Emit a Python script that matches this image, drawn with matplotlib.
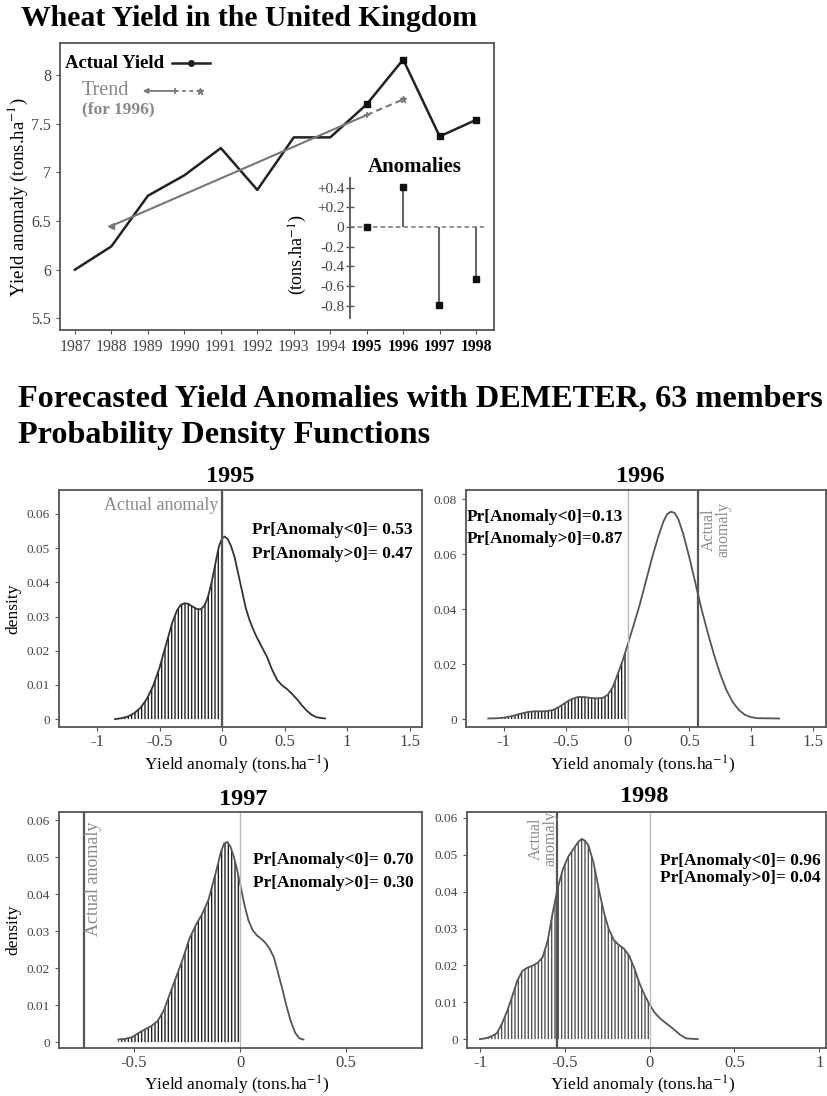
import matplotlib
matplotlib.use("Agg")
import matplotlib.pyplot as plt
import numpy as np

plt.rcParams['font.family'] = ['Liberation Serif', 'DejaVu Serif']
plt.rcParams['mathtext.fontset'] = 'stix'
plt.rcParams['hatch.linewidth'] = 1.0

## top chart data
years = [1987, 1988, 1989, 1990, 1991, 1992, 1993, 1994, 1995, 1996, 1997, 1998]
actual_yield = [6.00, 6.24, 6.76, 6.97, 7.25, 6.82, 7.36, 7.36, 7.70, 8.16, 7.37, 7.54]
trend_years = [1988, 1995]
trend_vals = [6.45, 7.59]
trend_fc_years = [1995, 1996]
trend_fc_vals = [7.59, 7.75]
anom_years = [1995, 1996, 1997, 1998]
anomalies = [0.0, 0.41, -0.79, -0.53]
anom_ticks = [0.4, 0.2, 0, -0.2, -0.4, -0.6, -0.8]
anom_ticklabels = ['+0.4', '+0.2', '0', '-0.2', '-0.4', '-0.6', '-0.8']

## forecast pdfs
x_1995 = [-0.856, -0.80, -0.75, -0.70, -0.65, -0.60, -0.55, -0.50, -0.45, -0.40, -0.36, -0.33, -0.30,
          -0.27, -0.24, -0.20, -0.17, -0.14, -0.11, -0.08, -0.05, -0.025, 0.0, 0.02, 0.045, 0.07, 0.10,
          0.13, 0.16, 0.19, 0.22, 0.25, 0.28, 0.32, 0.36, 0.40, 0.44, 0.48, 0.52, 0.56, 0.60, 0.64,
          0.68, 0.72, 0.76, 0.824]
d_1995 = [0.0, 0.0003, 0.0008, 0.0018, 0.0034, 0.006, 0.0098, 0.015, 0.0215, 0.028, 0.0318, 0.0334,
          0.0339, 0.0337, 0.033, 0.0322, 0.0321, 0.0332, 0.036, 0.0405, 0.046, 0.0505, 0.0528, 0.0534,
          0.0527, 0.0508, 0.0475, 0.0425, 0.0375, 0.0325, 0.029, 0.0262, 0.0238, 0.021, 0.0182, 0.0145,
          0.0115, 0.0099, 0.0088, 0.0074, 0.0058, 0.004, 0.0024, 0.0012, 0.0005, 0.0002]
x_1996 = [-1.126, -1.05, -1.0, -0.95, -0.90, -0.85, -0.80, -0.75, -0.70, -0.65, -0.60, -0.55, -0.50,
          -0.45, -0.40, -0.35, -0.30, -0.25, -0.20, -0.16, -0.12, -0.08, -0.04, 0.0, 0.05, 0.10, 0.15,
          0.20, 0.25, 0.29, 0.32, 0.35, 0.38, 0.41, 0.45, 0.50, 0.55, 0.60, 0.65, 0.70, 0.75, 0.80,
          0.85, 0.90, 0.95, 1.0, 1.05, 1.226]
d_1996 = [0.0002, 0.0003, 0.0005, 0.0009, 0.0015, 0.0021, 0.0026, 0.0028, 0.0028, 0.0029, 0.0033,
          0.0045, 0.006, 0.0073, 0.008, 0.008, 0.0077, 0.0075, 0.0077, 0.0088, 0.0115, 0.0162, 0.0212,
          0.0269, 0.0342, 0.0418, 0.0503, 0.0589, 0.0665, 0.0718, 0.0745, 0.0754, 0.075, 0.0728, 0.0674,
          0.0588, 0.0492, 0.0397, 0.0312, 0.0233, 0.0163, 0.0105, 0.0062, 0.0033, 0.0015, 0.0007,
          0.0003, 0.0002]
x_1997 = [-0.574, -0.54, -0.51, -0.48, -0.45, -0.42, -0.39, -0.36, -0.33, -0.30, -0.27, -0.24, -0.21,
          -0.18, -0.15, -0.13, -0.11, -0.09, -0.075, -0.06, -0.045, -0.03, -0.015, 0.0, 0.02, 0.04,
          0.06, 0.08, 0.10, 0.12, 0.14, 0.16, 0.18, 0.20, 0.22, 0.24, 0.26, 0.28, 0.299]
d_1997 = [0.0007, 0.0009, 0.0013, 0.0024, 0.0034, 0.0043, 0.0056, 0.0085, 0.0132, 0.0178, 0.0225,
          0.0278, 0.0315, 0.0345, 0.0383, 0.0425, 0.0468, 0.0515, 0.0537, 0.0541, 0.0528, 0.0502, 0.0468,
          0.0429, 0.0372, 0.0328, 0.0302, 0.0288, 0.0279, 0.0268, 0.0252, 0.0228, 0.0185, 0.0142, 0.0095,
          0.0055, 0.0025, 0.001, 0.0007]
x_1998 = [-1.0, -0.96, -0.93, -0.90, -0.87, -0.84, -0.81, -0.78, -0.75, -0.72, -0.69, -0.66, -0.63,
          -0.60, -0.57, -0.54, -0.51, -0.48, -0.45, -0.42, -0.40, -0.38, -0.36, -0.33, -0.30, -0.27,
          -0.24, -0.21, -0.18, -0.15, -0.12, -0.09, -0.06, -0.03, 0.0, 0.03, 0.06, 0.10, 0.14, 0.18,
          0.216, 0.284]
d_1998 = [0.0, 0.0003, 0.0008, 0.0016, 0.0042, 0.0075, 0.0115, 0.0158, 0.0185, 0.0194, 0.0199, 0.0207,
          0.0222, 0.0268, 0.0345, 0.0412, 0.0462, 0.0494, 0.0515, 0.0535, 0.0543, 0.0538, 0.0525, 0.0478,
          0.0408, 0.0345, 0.0298, 0.0268, 0.0255, 0.0245, 0.0226, 0.0193, 0.0152, 0.012, 0.0094, 0.0072,
          0.0057, 0.0042, 0.0028, 0.0012, 0.0002, 0.0]
actual_anom = {1995: 0.0, 1996: 0.567, 1997: -0.736, 1998: -0.545}
pr_below = {1995: '0.53', 1996: '0.13', 1997: '0.70', 1998: '0.96'}
pr_above = {1995: '0.47', 1996: '0.87', 1997: '0.30', 1998: '0.04'}

GREY = '#555555'
LGREY = '#8a8a8a'

fig = plt.figure(figsize=(8.27, 10.96), dpi=100)
W, H = 827.0, 1096.0

def add_ax(left, top, right, bottom):
    # pixel box -> figure fraction
    return fig.add_axes([left / W, 1 - bottom / H, (right - left) / W, (bottom - top) / H])

def style_frame(ax):
    for s in ax.spines.values():
        s.set_color(GREY)
        s.set_linewidth(1.3)
    ax.tick_params(direction='out', color=GREY, labelcolor='#444444', length=3, width=0.8)

## ---------------- top chart ----------------
fig.text(21 / W, 1 - 18 / H, 'Wheat Yield in the United Kingdom', fontsize=21.4,
         fontweight='bold', ha='left', va='center')

ax = add_ax(60, 43, 494, 330)
style_frame(ax)
ax.plot(years, actual_yield, color='#222222', lw=1.8)
ax.plot(anom_years, actual_yield[-4:], 's', color='#111111', ms=4)
ax.plot(trend_years, trend_vals, color='#777777', lw=1.5)
ax.plot(trend_years[:1], trend_vals[:1], marker='<', color='#777777', ms=5)
ax.plot(trend_years[1:], trend_vals[1:], marker='+', color='#777777', ms=5, mew=1.2)
ax.plot(trend_fc_years, trend_fc_vals, color='#777777', lw=1.5, ls=(0, (3, 2)))
ax.plot(trend_fc_years[1:], trend_fc_vals[1:], marker='*', color='#777777', ms=5)
ax.set_xlim(1986.59, 1998.49)
ax.set_ylim(5.38, 8.33)
ax.set_yticks([5.5, 6, 6.5, 7, 7.5, 8])
ax.set_yticklabels(['5.5', '6', '6.5', '7', '7.5', '8'], fontsize=11.5)
ax.set_xticks(years)
ax.set_xticklabels([str(y) for y in years], fontsize=11.3)
for lab, y in zip(ax.get_xticklabels(), years):
    if y >= 1995:
        lab.set_fontweight('bold')
        lab.set_color('black')
ax.set_ylabel('Yield anomaly (tons.ha$^{-1}$)', fontsize=13.5, va='center')
ax.yaxis.set_label_coords(-0.097, 0.463)

## legend drawn by hand
ax.text(0.012, 0.93, 'Actual Yield', transform=ax.transAxes, fontsize=13.5, fontweight='bold',
        ha='left', va='center')
ax.plot([0.258, 0.346], [0.93, 0.93], color='#222222', lw=1.8, transform=ax.transAxes)
ax.plot([0.302], [0.93], 'o', color='#222222', ms=4, transform=ax.transAxes)
ax.text(0.05, 0.836, 'Trend', transform=ax.transAxes, fontsize=14.5, color='#888888',
        ha='left', va='center')
ax.text(0.05, 0.77, '(for 1996)', transform=ax.transAxes, fontsize=12.5, color='#888888',
        fontweight='bold', ha='left', va='center')
ax.annotate('', xy=(0.184, 0.833), xytext=(0.265, 0.833), xycoords='axes fraction',
            arrowprops=dict(arrowstyle='-|>', color='#777777', lw=1.3, mutation_scale=7))
ax.plot([0.265], [0.833], '+', color='#777777', ms=5, mew=1.2, transform=ax.transAxes)
ax.plot([0.265, 0.323], [0.833, 0.833], color='#777777', lw=1.3, ls=(0, (2, 2)),
        transform=ax.transAxes)
ax.plot([0.323], [0.833], '*', color='#777777', ms=5, transform=ax.transAxes)

## anomalies inset
axi = add_ax(350, 178, 490, 318)
axi.patch.set_alpha(0)
for s in ['top', 'right', 'bottom']:
    axi.spines[s].set_visible(False)
axi.spines['left'].set_color(GREY)
axi.spines['left'].set_linewidth(1.3)
axi.set_xlim(1994.54, 1998.39)
axi.set_ylim(-0.926, 0.498)
axi.set_xticks([])
axi.set_yticks(anom_ticks)
axi.set_yticklabels(anom_ticklabels, fontsize=11, color='#444444')
axi.tick_params(axis='y', direction='inout', length=6, color=GREY, width=1, pad=1)
axi.axhline(0, color='#777777', lw=1.1, ls=(0, (3, 2)), xmax=0.96)
axi.vlines(anom_years, 0, anomalies, color='#666666', lw=1.5)
axi.plot(anom_years, anomalies, 's', color='#111111', ms=4.5)
axi.text(0.464, 1.079, 'Anomalies', transform=axi.transAxes, fontsize=15, fontweight='bold',
         ha='center', va='center')
axi.set_ylabel('(tons.ha$^{-1}$)', fontsize=13, va='center')
axi.yaxis.set_label_coords(-0.37, 0.45)

## ---------------- forecast section ----------------
fig.text(18 / W, 1 - 399 / H, 'Forecasted Yield Anomalies with DEMETER, 63 members', fontsize=23.2,
         fontweight='bold', ha='left', va='center')
fig.text(18 / W, 1 - 436 / H, 'Probability Density Functions', fontsize=23.2,
         fontweight='bold', ha='left', va='center')

panels = [
    (1995, x_1995, d_1995, (59, 490, 422, 727), (-1.304, 1.6), (-0.0023, 0.067),
     [-1, -0.5, 0, 0.5, 1, 1.5], [0, 0.01, 0.02, 0.03, 0.04, 0.05, 0.06], (0.471, 1.055)),
    (1996, x_1996, d_1996, (466, 490, 826, 727), (-1.306, 1.605), (-0.0029, 0.0833),
     [-1, -0.5, 0, 0.5, 1, 1.5], [0, 0.02, 0.04, 0.06, 0.08], (0.483, 1.055)),
    (1997, x_1997, d_1997, (59, 812, 422, 1048), (-0.854, 0.858), (-0.0016, 0.0622),
     [-0.5, 0, 0.5], [0, 0.01, 0.02, 0.03, 0.04, 0.05, 0.06], (0.507, 1.051)),
    (1998, x_1998, d_1998, (467, 812, 826, 1048), (-1.076, 1.04), (-0.0024, 0.0616),
     [-1, -0.5, 0, 0.5, 1], [0, 0.01, 0.02, 0.03, 0.04, 0.05, 0.06], (0.494, 1.064)),
]

def fmt(v):
    return '%g' % v

for yr, xs, ds, box, xl, yl, xt, yt, tpos in panels:
    xs = np.array(xs)
    ds = np.array(ds)
    pa = add_ax(*box)
    style_frame(pa)
    neg = xs <= 0
    pa.fill_between(xs[neg], 0, ds[neg], facecolor='none',
                    edgecolor='#222222' if yr != 1998 else '#555555', linewidth=0, hatch='|||||')
    pa.plot(xs, ds, color='#555555' if yr != 1995 else '#333333', lw=1.3)
    pa.axvline(0, color='#bbbbbb', lw=1.0)
    pa.axvline(actual_anom[yr], color='#555555', lw=1.6)
    pa.set_xlim(*xl)
    pa.set_ylim(*yl)
    pa.set_xticks(xt)
    pa.set_xticklabels([fmt(v) for v in xt], fontsize=12, color='#444444')
    pa.set_yticks(yt)
    pa.set_yticklabels([fmt(v) for v in yt], fontsize=9.5, color='#444444')
    pa.tick_params(axis='x', pad=2)
    pa.text(tpos[0], tpos[1], str(yr), transform=pa.transAxes, fontsize=17.5, fontweight='bold',
            ha='center', va='center')
    pa.set_xlabel('Yield anomaly (tons.ha$^{-1}$)', fontsize=12.5, va='center')
    pa.xaxis.set_label_coords(0.49, -0.16)
    if yr in (1995, 1997):
        pa.set_ylabel('density', fontsize=12.5, va='center')
        pa.yaxis.set_label_coords(-0.127, 0.5)

    if yr == 1995:
        pa.text(-0.03, 0.0626, 'Actual anomaly', color=LGREY, fontsize=13, ha='right', va='center')
        px, py1, py2 = 0.237, 0.0553, 0.0484
        sep = '= '
    elif yr == 1996:
        pa.text(0.72, 0.079, 'Actual\nanomaly', color=LGREY, fontsize=11.5, ha='center', va='top',
                rotation=90, linespacing=0.9)
        px, py1, py2 = -1.30, 0.0736, 0.0655
        sep = '='
    elif yr == 1997:
        pa.text(-0.692, 0.0595, 'Actual anomaly', color=LGREY, fontsize=13, ha='center', va='top',
                rotation=90)
        px, py1, py2 = 0.063, 0.0492, 0.0429
        sep = '= '
    else:
        pa.text(-0.627, 0.0618, 'Actual\nanomaly', color=LGREY, fontsize=11.5, ha='center', va='top',
                rotation=90, linespacing=0.9)
        px, py1, py2 = 0.059, 0.0482, 0.0437
        sep = '= '
    pa.text(px, py1, 'Pr[Anomaly<0]' + sep + pr_below[yr], fontsize=12.5, fontweight='bold',
            ha='left', va='center')
    pa.text(px, py2, 'Pr[Anomaly>0]' + sep + pr_above[yr], fontsize=12.5, fontweight='bold',
            ha='left', va='center')

fig.savefig('out.png', dpi=100)
